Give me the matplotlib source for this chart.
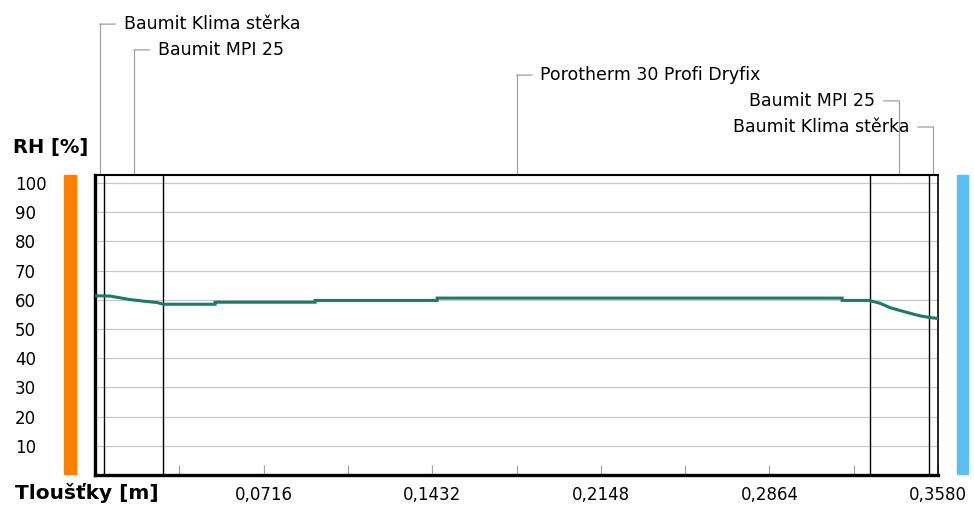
import numpy as np
import matplotlib
matplotlib.use("Agg")
from matplotlib import pyplot as plt
from matplotlib import transforms
from matplotlib.patches import Rectangle

# Layers of the wall (from inside to outside)
layer_names = ["Baumit Klima stěrka", "Baumit MPI 25", "Porotherm 30 Profi Dryfix",
               "Baumit MPI 25", "Baumit Klima stěrka"]
layer_thick = [0.004, 0.025, 0.300, 0.025, 0.004]

# RH profile
pos_m = [0.0, 0.0064, 0.0085, 0.0149, 0.0212, 0.0263, 0.029, 0.051, 0.051,
         0.0935, 0.0935, 0.1453, 0.1453, 0.3173, 0.3173, 0.3288, 0.3335,
         0.3377, 0.3448, 0.3505, 0.3542, 0.358]
rh_pct = [61.4, 61.3, 61.0, 60.1, 59.5, 59.1, 58.5, 58.5, 59.2,
          59.2, 59.8, 59.8, 60.6, 60.6, 59.8, 59.8, 58.8,
          57.3, 55.7, 54.5, 54.0, 53.6]

y_ticks = [10, 20, 30, 40, 50, 60, 70, 80, 90, 100]
x_ticks = [0.0716, 0.1432, 0.2148, 0.2864, 0.358]
x_labels = ["0,0716", "0,1432", "0,2148", "0,2864", "0,3580"]
x_minor = [0.0358, 0.1074, 0.1790, 0.2506, 0.3222]

# label heights above the plot, in axes fraction
label_levels = [1.503, 1.417, 1.333, 1.247, 1.16]

W, H = 974, 508
fig = plt.figure(figsize=(W / 100, H / 100), dpi=100)
ax = fig.add_axes([95 / W, (H - 475) / H, 843 / W, 300 / H])

# grid
for v in y_ticks:
    ax.axhline(v, color="#c8c8c8", lw=0.9, zorder=1)

# layer boundaries
edges = np.cumsum(layer_thick)
for e in edges[:-1]:
    ax.axvline(e, color="black", lw=1.0, zorder=3)

ax.plot(pos_m, rh_pct, color="#1b7a6a", lw=2.2, zorder=4, solid_joinstyle="miter")

total = sum(layer_thick)
ax.set_xlim(0, total)
ax.set_ylim(0, 300 / 2.919)

ax.set_yticks(y_ticks)
ax.set_yticklabels([str(v) for v in y_ticks], fontsize=12)
ax.tick_params(axis="y", length=0, pad=57.6)
for lab in ax.get_yticklabels():
    lab.set_horizontalalignment("left")

ax.set_xticks(x_ticks)
ax.set_xticklabels(x_labels, fontsize=12)
ax.set_xticks(x_minor, minor=True)
ax.tick_params(axis="x", which="both", direction="in", length=7, width=0.8,
               color="#a0a0a0", pad=8)

for s, w in zip(["left", "bottom", "top", "right"], [2.4, 2.4, 1.5, 1.2]):
    ax.spines[s].set_linewidth(w)
    ax.spines[s].set_color("black")

# layer labels with leader lines
trans = transforms.blended_transform_factory(ax.transData, ax.transAxes)
centers = edges - np.array(layer_thick) / 2
grey = "#a0a0a0"
for i, (name, xc, yl) in enumerate(zip(layer_names, centers, label_levels)):
    ax.plot([xc, xc], [1, yl], color=grey, lw=0.9, transform=trans, clip_on=False)
    right_side = i >= 3
    off = -24 if right_side else 24
    ax.annotate(name, xy=(xc, yl), xycoords=trans, xytext=(off, 0),
                textcoords="offset pixels", ha="right" if right_side else "left",
                va="center", fontsize=12.5,
                arrowprops=dict(arrowstyle="-", color=grey, lw=0.9,
                                shrinkA=4, shrinkB=0))

# boundary condition bars
fig.patches.append(Rectangle((64 / W, (H - 474) / H), 12 / W, 299 / H,
                             transform=fig.transFigure, color="#ff8000"))
fig.patches.append(Rectangle((957 / W, (H - 474) / H), 11 / W, 299 / H,
                             transform=fig.transFigure, color="#5bbff5"))

fig.text(13 / W, (H - 148) / H, "RH [%]", fontsize=14, fontweight="bold",
         va="center", ha="left")
fig.text(15 / W, (H - 493) / H, "Tloušťky [m]", fontsize=14.5, fontweight="bold",
         va="center", ha="left")

fig.savefig("out.png", dpi=100)
